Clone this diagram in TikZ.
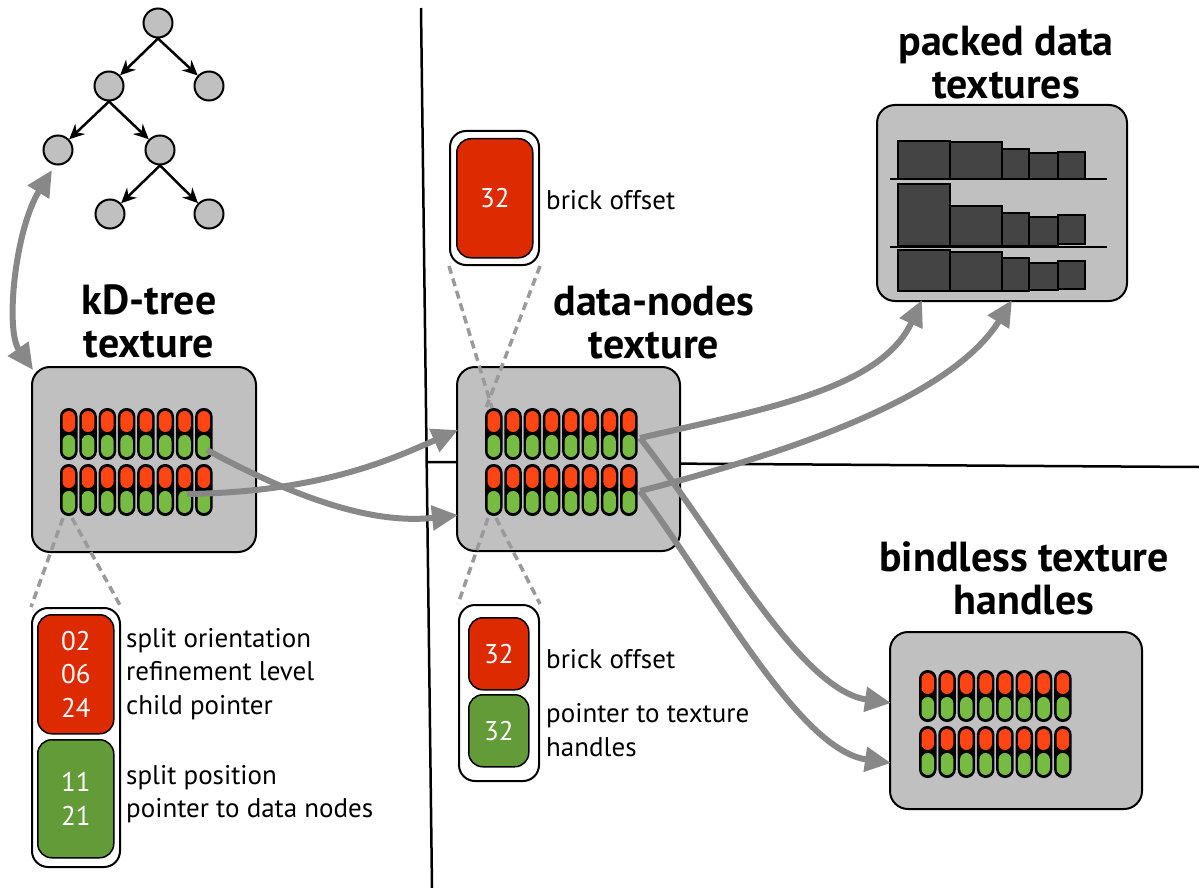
\documentclass[tikz,border=0pt]{standalone}
\usepackage{fontspec}
\setmainfont{PT Sans}
\usetikzlibrary{arrows.meta}
\definecolor{boxgray}{HTML}{C0C0C0}
\definecolor{cellred}{HTML}{FF4513}
\definecolor{cellgreen}{HTML}{78BB42}
\definecolor{legred}{HTML}{DE2A00}
\definecolor{leggreen}{HTML}{629B38}
\definecolor{arrgray}{HTML}{888888}
\definecolor{dashgray}{HTML}{9A9A9A}
\definecolor{bardark}{HTML}{444444}
\newcommand{\cellgrid}[2]{%
  \foreach \r in {0,1}{\foreach \c in {0,...,7}{%
    \pgfmathsetmacro\cx{#1+\c*19.3}%
    \pgfmathsetmacro\cy{#2+\r*56}%
    \fill[black,rounded corners=8.5pt] (\cx,\cy) rectangle ++(17.5,52);
    \fill[cellred,rounded corners=6.2pt] (\cx+2.5,\cy+3) rectangle ++(12.5,21);
    \fill[cellgreen,rounded corners=6.2pt] (\cx+2.5,\cy+27) rectangle ++(12.5,22);
  }}}
\begin{document}
\begin{tikzpicture}[x=1pt,y=-1pt,
  graybox/.style={draw=black, line width=2pt, fill=boxgray, rounded corners=18pt, anchor=north west, inner sep=0pt},
  legbox/.style={draw=black, line width=2pt, fill=white, rounded corners=16pt, anchor=north west, inner sep=0pt},
  redbox/.style={draw=black, line width=1.5pt, fill=legred, rounded corners=14pt, anchor=north west, inner sep=0pt},
  greenbox/.style={draw=black, line width=1.5pt, fill=leggreen, rounded corners=14pt, anchor=north west, inner sep=0pt},
  title/.style={font=\fontsize{42}{43}\selectfont\bfseries, align=center, inner sep=0pt},
  lab/.style={font=\fontsize{27}{33.5}\selectfont, anchor=west, align=left, inner sep=0pt},
  num/.style={font=\fontsize{27}{33.5}\selectfont, text=white, align=center, inner sep=0pt},
  tnode/.style={circle, draw=black, line width=2pt, fill=boxgray, minimum size=29pt, inner sep=0pt},
  tedge/.style={line width=2.5pt, -{Stealth[length=15pt,width=14pt]}},
  zoomline/.style={draw=dashgray, line width=3.5pt, dash pattern=on 8pt off 5pt},
  garrow/.style={draw=arrgray, line width=6pt, -{Triangle[length=26pt,width=24pt]}},
  gdarrow/.style={draw=arrgray, line width=6pt, {Triangle[length=26pt,width=24pt]}-{Triangle[length=26pt,width=24pt]}},
  bar/.style={fill=bardark, draw=black, line width=1.2pt}
]
\useasboundingbox (0,0) rectangle (1199,888);

% separator lines
\draw[line width=2.5pt] (421,8) -- (432,888);
\draw[line width=2.5pt] (427,462) -- (1199,467);

% tree
\node[tnode] (t0) at (158,23) {};
\node[tnode] (t1) at (109,86) {};
\node[tnode] (t2) at (209,86) {};
\node[tnode] (t3) at (58,150) {};
\node[tnode] (t4) at (160,150) {};
\node[tnode] (t5) at (110,214) {};
\node[tnode] (t6) at (209,214) {};
\draw[tedge] (t0.south) -- (t1);
\draw[tedge] (t0.south) -- (t2);
\draw[tedge] (t1.south) -- (t3);
\draw[tedge] (t1.south) -- (t4);
\draw[tedge] (t4.south) -- (t5);
\draw[tedge] (t4.south) -- (t6);

% titles
\node[title] (kdtitle) at (149,321) {kD-tree\\texture};
\node[title] (dntitle) at (654,323) {data-nodes\\texture};
\node[title] (pktitle) at (1006,63) {packed data\\textures};
\node[title] (bltitle) at (1024,578) {bindless texture\\handles};

% gray boxes
\node[graybox, minimum width=224pt, minimum height=185pt] (kdbox) at (31,366) {};
\node[graybox, minimum width=223pt, minimum height=184pt] (dnbox) at (456,366) {};
\node[graybox, minimum width=250pt, minimum height=196pt] (pkbox) at (876,104) {};
\node[graybox, minimum width=252pt, minimum height=177pt] (blbox) at (889,631) {};

% cells
\cellgrid{60}{408}
\cellgrid{485}{408}
\cellgrid{919}{670}

% packed data bars
\draw[line width=2pt] (890,179) -- (1107,179);
\draw[line width=2pt] (890,247) -- (1107,247);
\draw[bar] (898,141) rectangle (950,179);
\draw[bar] (950,142) rectangle (1002,179);
\draw[bar] (1002,149) rectangle (1029,179);
\draw[bar] (1029,153) rectangle (1058,179);
\draw[bar] (1058,152) rectangle (1085,179);
\draw[bar] (898,184) rectangle (950,246);
\draw[bar] (950,206) rectangle (1002,246);
\draw[bar] (1002,213) rectangle (1029,246);
\draw[bar] (1029,217) rectangle (1058,246);
\draw[bar] (1058,215) rectangle (1085,244);
\draw[bar] (898,250) rectangle (950,291);
\draw[bar] (950,252) rectangle (1002,291);
\draw[bar] (1002,258) rectangle (1029,291);
\draw[bar] (1029,263) rectangle (1058,290);
\draw[bar] (1058,261) rectangle (1085,289);

% zoom (dashed) line anchors
\coordinate (kdz1) at (63,518);
\coordinate (kdz2) at (72,518);
\coordinate (dnz1) at (492,408);
\coordinate (dnz2) at (486,408);
\coordinate (dnz3) at (488,518);
\coordinate (dnz4) at (496,518);

% legend boxes
\node[legbox, minimum width=88pt, minimum height=259pt] (kdleg) at (31,607) {};
\node[redbox, minimum width=76pt, minimum height=119pt] (kdred) at (37,614) {};
\node[greenbox, minimum width=76pt, minimum height=118pt] (kdgreen) at (37,739) {};
\node[num] at (kdred.center) {02\\06\\24};
\node[num] at (kdgreen.center) {11\\21};
\node[lab] at (126,674) {split orientation\\refinement level\\child pointer};
\node[lab] at (126,794) {split position\\pointer to data nodes};

\node[legbox, minimum width=89pt, minimum height=134pt] (dnleg1) at (449,130) {};
\node[redbox, minimum width=76pt, minimum height=119pt] (dnred1) at (456,138) {};
\node[num] at (dnred1.center) {32};
\node[lab] at (546,200) {brick offset};

\node[legbox, minimum width=80pt, minimum height=176pt] (dnleg2) at (458,604) {};
\node[redbox, minimum width=60pt, minimum height=72pt] (dnred2) at (468,617) {};
\node[greenbox, minimum width=60pt, minimum height=72pt] (dngreen2) at (468,694) {};
\node[num] at (dnred2.center) {32};
\node[num] at (dngreen2.center) {32};
\node[lab] at (546,659) {brick offset};
\node[lab] at (546,730) {pointer to texture\\handles};

\draw[zoomline] (kdz1) -- (kdleg.north west);
\draw[zoomline] (kdz2) -- (kdleg.north east);
\draw[zoomline] (dnleg1.south west) -- (dnz1);
\draw[zoomline] (dnleg1.south east) -- (dnz2);
\draw[zoomline] (dnz3) -- (dnleg2.north west);
\draw[zoomline] (dnz4) -- (dnleg2.north east);

% gray arrows
\coordinate (kdA) at (187,494);
\coordinate (kdB) at (207,450);
\coordinate (dnIn1) at (458,430);
\coordinate (dnIn2) at (458,515);
\coordinate (dnA) at (640,438);
\coordinate (dnB) at (640,491);
\coordinate (pkIn1) at (922,300);
\coordinate (pkIn2) at (1012,300);
\coordinate (blIn1) at (891,703);
\coordinate (blIn2) at (891,763);
\coordinate (treeEnd) at (52,170);
\coordinate (kdCorner) at (33,370);

\draw[gdarrow] (kdCorner) .. controls (5,330) and (15,230) .. (treeEnd);
\draw[garrow] (kdA) .. controls (320,492) and (390,460) .. (dnIn1);
\draw[garrow] (kdB) .. controls (290,495) and (370,525) .. (dnIn2);
\draw[garrow] (dnA) .. controls (760,410) and (880,390) .. (pkIn1);
\draw[garrow] (dnB) .. controls (780,455) and (950,400) .. (pkIn2);
\draw[garrow] (dnA) .. controls (720,540) and (800,690) .. (blIn1);
\draw[garrow] (dnB) .. controls (720,600) and (800,750) .. (blIn2);
\end{tikzpicture}
\end{document}
